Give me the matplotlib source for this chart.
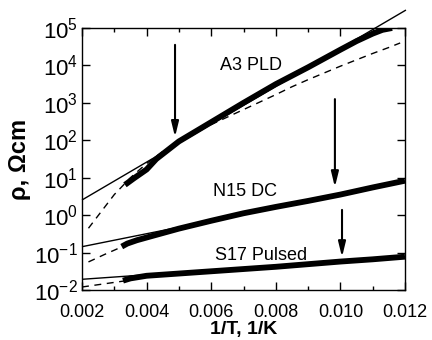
import matplotlib
matplotlib.use("Agg")
import matplotlib.pyplot as plt
import numpy as np

plt.rcParams["font.family"] = ["Liberation Sans", "DejaVu Sans"]
plt.rcParams["mathtext.fontset"] = "custom"
plt.rcParams["mathtext.rm"] = "Liberation Sans"
plt.rcParams["mathtext.it"] = "Liberation Sans:italic"
plt.rcParams["mathtext.bf"] = "Liberation Sans:bold"

# data: x = 1/T (1/K), y = log10(rho / Ohm cm)
a3_data_x = [0.00333, 0.0036, 0.0040, 0.0043, 0.0050, 0.0057, 0.0070, 0.0080,
             0.0090, 0.0100, 0.0105, 0.0110, 0.0113, 0.0116]
a3_data_y = [0.81, 0.98, 1.22, 1.50, 1.97, 2.33, 3.00, 3.50,
             3.95, 4.42, 4.65, 4.85, 4.95, 5.00]
a3_fit_x = [0.002, 0.01203]
a3_fit_y = [0.405, 5.48]
a3_dash_x = [0.0022, 0.0026, 0.0030, 0.0035, 0.0040, 0.0045, 0.0050, 0.0055,
             0.0060, 0.0065, 0.0070, 0.0075, 0.0080, 0.0085, 0.0090, 0.0095,
             0.0100, 0.0105, 0.0110, 0.0115, 0.01185]
a3_dash_y = [-0.35, 0.10, 0.55, 1.00, 1.38, 1.70, 1.97, 2.20,
             2.42, 2.62, 2.82, 3.02, 3.22, 3.43, 3.62, 3.80,
             3.98, 4.15, 4.32, 4.48, 4.60]

n15_data_x = [0.00323, 0.0034, 0.0037, 0.0042, 0.0050, 0.0060, 0.0070, 0.0080,
              0.0090, 0.0100, 0.0110, 0.0120]
n15_data_y = [-0.84, -0.76, -0.67, -0.55, -0.36, -0.15, 0.05, 0.22,
              0.38, 0.55, 0.74, 0.92]
n15_fit_x = [0.002, 0.012]
n15_fit_y = [-0.843, 0.89]
n15_dash_x = [0.0022, 0.0027, 0.0032, 0.0037, 0.0042]
n15_dash_y = [-1.25, -1.05, -0.86, -0.70, -0.57]

s17_data_x = [0.00327, 0.0035, 0.0040, 0.0050, 0.0060, 0.0070, 0.0080,
              0.0090, 0.0100, 0.0110, 0.0120]
s17_data_y = [-1.75, -1.69, -1.62, -1.56, -1.50, -1.44, -1.38,
              -1.31, -1.24, -1.18, -1.11]
s17_fit_x = [0.002, 0.012]
s17_fit_y = [-1.714, -1.11]
s17_dash_x = [0.002, 0.0033]
s17_dash_y = [-1.92, -1.76]

# arrows: x, log10 start, log10 tip
arrow_x = [0.00488, 0.00983, 0.01005]
arrow_top = [4.55, 3.10, 0.14]
arrow_tip = [2.09, 0.75, -1.12]

labels = ["A3 PLD", "N15 DC", "S17 Pulsed"]
label_x = [0.00627, 0.00606, 0.00612]
label_y = [4.01, 0.64, -1.08]

fig = plt.figure(figsize=(4.32, 3.4), dpi=100)
ax = fig.add_axes([82 / 432, 1 - 290 / 340, 323 / 432, 262 / 340])

dash = (0, (5, 4))
for dx, dy, fx, fy, sx, sy in [
    (a3_data_x, a3_data_y, a3_fit_x, a3_fit_y, a3_dash_x, a3_dash_y),
    (n15_data_x, n15_data_y, n15_fit_x, n15_fit_y, n15_dash_x, n15_dash_y),
    (s17_data_x, s17_data_y, s17_fit_x, s17_fit_y, s17_dash_x, s17_dash_y),
]:
    ax.plot(fx, 10 ** np.array(fy), color="black", lw=1.0, clip_on=False,
            solid_capstyle="butt")
    ax.plot(sx, 10 ** np.array(sy), color="black", lw=1.0, linestyle=dash)
    ax.plot(dx, 10 ** np.array(dy), color="black", lw=4.2,
            solid_capstyle="butt", solid_joinstyle="round")

for x, top, tip in zip(arrow_x, arrow_top, arrow_tip):
    ax.annotate("", xy=(x, 10 ** tip), xytext=(x, 10 ** top),
                arrowprops=dict(arrowstyle="-|>,head_width=0.22,head_length=0.9",
                                color="black", lw=1.5,
                                mutation_scale=10, shrinkA=0, shrinkB=0))

for txt, x, y in zip(labels, label_x, label_y):
    ax.text(x, 10 ** y, txt, fontsize=13, ha="left", va="center")

ax.set_yscale("log")
ax.set_xlim(0.002, 0.012)
ax.set_ylim(1e-2, 1e5)
ax.set_xticks([0.002, 0.004, 0.006, 0.008, 0.010, 0.012])
ax.set_xticklabels(["0.002", "0.004", "0.006", "0.008", "0.010", "0.012"])
ax.set_xticks(np.arange(0.003, 0.012, 0.002), minor=True)
ax.set_yticks([10.0 ** k for k in range(-2, 6)])
ax.yaxis.set_minor_locator(matplotlib.ticker.LogLocator(base=10, subs=np.arange(2, 10)))
ax.yaxis.set_minor_formatter(matplotlib.ticker.NullFormatter())

ax.tick_params(which="both", direction="in", top=True, right=True, width=1.0)
ax.tick_params(which="major", length=6)
ax.tick_params(which="minor", length=3)
ax.tick_params(axis="x", labelsize=13, pad=10)
ax.tick_params(axis="y", labelsize=16, pad=3)
for s in ax.spines.values():
    s.set_linewidth(1.0)

ax.set_xlabel("1/T, 1/K", fontsize=14, fontweight="bold", labelpad=0)
ax.set_ylabel("ρ, Ωcm", fontsize=17, fontweight="bold", labelpad=2)

fig.savefig("out.png", dpi=100)
